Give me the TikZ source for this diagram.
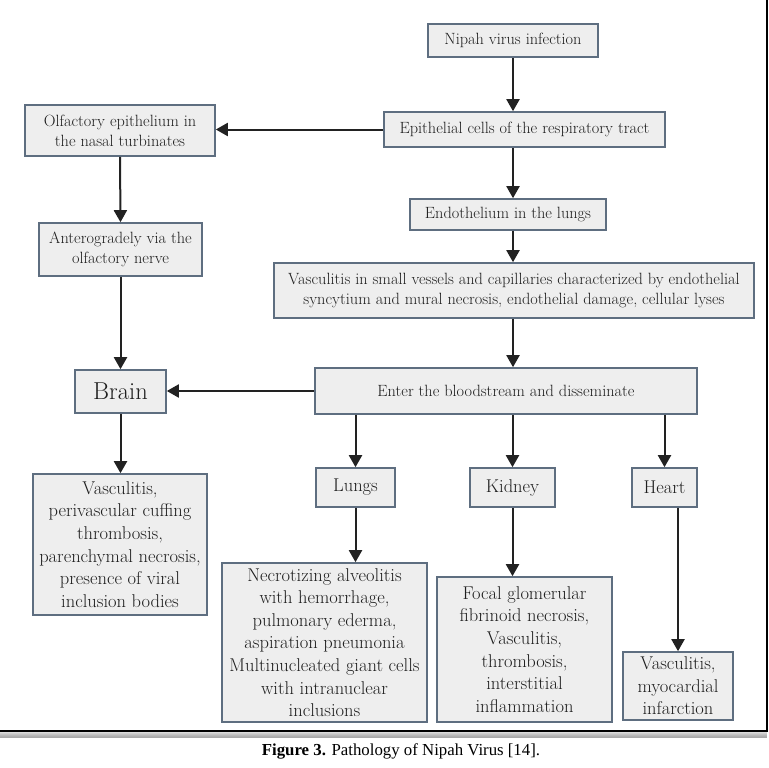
\documentclass[tikz,border=0pt]{standalone}
\usepackage{fontspec}
\newfontfamily\capfont{Liberation Serif}
\usetikzlibrary{arrows.meta}
\definecolor{boxfill}{HTML}{EEEEEE}
\definecolor{boxline}{HTML}{5E6E80}
\definecolor{txt}{HTML}{1E1E1E}
\definecolor{arr}{HTML}{222222}
\tikzset{
  box/.style={draw=boxline, line width=1.6pt, fill=boxfill, text=txt, align=center,
    inner sep=0pt, font=\fontsize{16.3}{20}\selectfont},
  bigbox/.style={box, font=\fontsize{18.5}{22.6}\selectfont},
  organ/.style={box, font=\fontsize{18.5}{20}\selectfont},
  conn/.style={draw=arr, line width=2pt, -{Triangle[length=12pt,width=13pt]}},
}
\newcommand{\bx}[5]{\node[#1, minimum width=#4pt, minimum height=#5pt] (#2) at (#3) }
\begin{document}
\begin{tikzpicture}[x=1pt,y=-1pt]
\useasboundingbox (0,0) rectangle (769,768);
% boxes
\bx{box}{nipah}{513,40.5}{170}{33} {Nipah virus infection};
\bx{box}{epi}{524.5,129.5}{281}{35} {Epithelial cells of the respiratory tract};
\bx{box}{olf}{120,130.5}{190}{51} {Olfactory epithelium in\\the nasal turbinates};
\bx{box}{ant}{120.5,249.5}{163}{53} {Anterogradely via the\\olfactory nerve};
\bx{box}{endo}{508,214.5}{196}{31} {Endothelium in the lungs};
\bx{box}{vasc}{514,290.5}{480}{55} {Vasculitis in small vessels and capillaries characterized by endothelial\\syncytium and mural necrosis, endothelial damage, cellular lyses};
\bx{box}{enter}{506,391}{382}{46} {Enter the bloodstream and disseminate};
\bx{box}{brain}{120.5,391.5}{91}{43} {\fontsize{24.5}{26}\selectfont Brain};
\bx{bigbox}{brainres}{120,544.5}{174}{141} {Vasculitis,\\perivascular cuffing\\thrombosis,\\parenchymal necrosis,\\presence of viral\\inclusion bodies};
\bx{organ}{lungs}{355.5,487.5}{79}{39} {Lungs};
\bx{organ}{kidney}{512.5,487.5}{85}{39} {Kidney};
\bx{organ}{heart}{664.5,487.5}{65}{39} {Heart};
\bx{bigbox}{lungres}{324.5,642.5}{205}{159} {Necrotizing alveolitis\\with hemorrhage,\\pulmonary ederma,\\aspiration pneumonia\\Multinucleated giant cells\\with intranuclear\\inclusions};
\bx{bigbox}{kidres}{524.5,649.5}{175}{145} {Focal glomerular\\fibrinoid necrosis,\\Vasculitis,\\thrombosis,\\interstitial\\inflammation};
\bx{bigbox}{heartres}{678,686}{110}{68} {Vasculitis,\\myocardial\\infarction};
% connectors
\coordinate (mx) at (513,0);
\draw[conn] (nipah.south) -- (nipah.south |- epi.north);
\draw[conn] (epi.west) -- (epi.west -| olf.east);
\draw[conn] (olf.south) -- (ant.north);
\draw[conn] (epi.south -| mx) -- (endo.north -| mx);
\draw[conn] (endo.south -| mx) -- (vasc.north -| mx);
\draw[conn] (vasc.south -| mx) -- (enter.north -| mx);
\draw[conn] (enter.west) -- (enter.west -| brain.east);
\draw[conn] (ant.south) -- (ant.south |- brain.north);
\draw[conn] (brain.south) -- (brain.south |- brainres.north);
\draw[conn] (enter.south -| lungs.north) -- (lungs.north);
\draw[conn] (enter.south -| kidney.north) -- (kidney.north);
\draw[conn] (enter.south -| heart.north) -- (heart.north);
\draw[conn] (lungs.south) -- (lungs.south |- lungres.north);
\draw[conn] (kidney.south) -- (kidney.south |- kidres.north);
\draw[conn] (heart.south -| heartres.north) -- (heartres.north);
% frame with shadow
\foreach \i/\g in {1/40,2/55,3/68,4/80,5/90,6/96}{
  \fill[black!\g!white, opacity=0.35] (0,731+\i) rectangle (767,732+\i);
}
\draw[line width=1.6pt, line cap=rect] (767,0) -- (767,731) -- (0,731);
% caption
\node[font=\capfont\fontsize{16.8}{19}\selectfont, text=black] (cap) at (401,751) {\textbf{Figure 3.} Pathology of Nipah Virus [14].};
\end{tikzpicture}
\end{document}
